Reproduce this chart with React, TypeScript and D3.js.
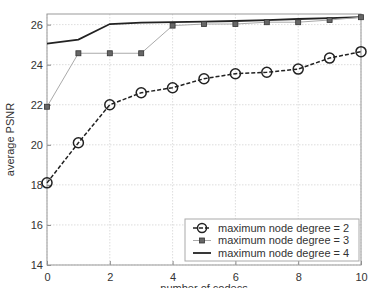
import React, { useEffect, useRef } from 'react';
import * as d3 from 'd3';

const codecs = [0, 1, 2, 3, 4, 5, 6, 7, 8, 9, 10];
const degree2 = [18.1, 20.1, 22.0, 22.6, 22.85, 23.3, 23.55, 23.62, 23.78, 24.33, 24.65];
const degree3 = [21.9, 24.57, 24.57, 24.57, 25.95, 26.03, 26.03, 26.12, 26.12, 26.23, 26.37];
const degree4 = [25.05, 25.25, 26.03, 26.1, 26.12, 26.15, 26.18, 26.22, 26.28, 26.32, 26.37];
const xTicks = [0, 2, 4, 6, 8, 10];
const yTicks = [14, 16, 18, 20, 22, 24, 26];
const legendLabels = ['maximum node degree = 2', 'maximum node degree = 3', 'maximum node degree = 4'];

export default function App() {
  const svgRef = useRef<SVGSVGElement>(null);
  const width = 370;
  const height = 288;
  const margin = { top: 14, right: 9, bottom: 23, left: 47 };

  useEffect(() => {
    const svg = d3.select(svgRef.current);
    svg.selectAll('*').remove();
    const innerW = width - margin.left - margin.right;
    const innerH = height - margin.top - margin.bottom;
    const font = 'Liberation Sans, Arial, sans-serif';

    const x = d3.scaleLinear().domain([0, 10]).range([0, innerW]);
    const y = d3.scaleLinear().domain([14, 26.53]).range([innerH, 0]);

    const g = svg.append('g').attr('transform', `translate(${margin.left},${margin.top})`);

    // grid
    g.selectAll('.gx')
      .data(xTicks)
      .enter()
      .append('line')
      .attr('x1', (d) => x(d))
      .attr('x2', (d) => x(d))
      .attr('y1', 0)
      .attr('y2', innerH)
      .attr('stroke', '#d4d4d4')
      .attr('stroke-width', 0.8)
      .attr('stroke-dasharray', '1.5 1.5');
    g.selectAll('.gy')
      .data(yTicks)
      .enter()
      .append('line')
      .attr('x1', 0)
      .attr('x2', innerW)
      .attr('y1', (d) => y(d))
      .attr('y2', (d) => y(d))
      .attr('stroke', '#d4d4d4')
      .attr('stroke-width', 0.8)
      .attr('stroke-dasharray', '1.5 1.5');

    // axes
    const xAxis = d3.axisBottom(x).tickValues(xTicks).tickSize(-4).tickPadding(8);
    const yAxis = d3.axisLeft(y).tickValues(yTicks).tickSize(-4).tickPadding(4);
    const gx = g.append('g').attr('transform', `translate(0,${innerH})`).call(xAxis);
    const gy = g.append('g').call(yAxis);
    [gx, gy].forEach((a) => {
      a.select('.domain').remove();
      a.selectAll('line').attr('stroke', '#888');
      a.selectAll('text').attr('font-family', font).attr('font-size', 11).attr('fill', '#333');
    });

    // box
    g.append('rect')
      .attr('width', innerW)
      .attr('height', innerH)
      .attr('fill', 'none')
      .attr('stroke', '#999')
      .attr('stroke-width', 1);

    const line = d3
      .line<number>()
      .x((_, i) => x(codecs[i]))
      .y((d) => y(d));

    // degree 4
    g.append('path')
      .datum(degree4)
      .attr('d', line)
      .attr('fill', 'none')
      .attr('stroke', '#222')
      .attr('stroke-width', 1.8);

    // degree 3
    g.append('path')
      .datum(degree3)
      .attr('d', line)
      .attr('fill', 'none')
      .attr('stroke', '#aaa')
      .attr('stroke-width', 1);
    g.selectAll('.m3')
      .data(degree3)
      .enter()
      .append('rect')
      .attr('x', (_, i) => x(codecs[i]) - 2.5)
      .attr('y', (d) => y(d) - 2.5)
      .attr('width', 5)
      .attr('height', 5)
      .attr('fill', '#666')
      .attr('stroke', '#333')
      .attr('stroke-width', 0.8);

    // degree 2
    g.append('path')
      .datum(degree2)
      .attr('d', line)
      .attr('fill', 'none')
      .attr('stroke', '#222')
      .attr('stroke-width', 1.5)
      .attr('stroke-dasharray', '4 2');
    g.selectAll('.m2')
      .data(degree2)
      .enter()
      .append('circle')
      .attr('cx', (_, i) => x(codecs[i]))
      .attr('cy', (d) => y(d))
      .attr('r', 5)
      .attr('fill', 'none')
      .attr('stroke', '#222')
      .attr('stroke-width', 1.5);

    // labels
    svg.append('text')
      .attr('transform', `translate(14,${margin.top + innerH / 2}) rotate(-90)`)
      .attr('text-anchor', 'middle')
      .attr('font-family', font)
      .attr('font-size', 11)
      .attr('fill', '#333')
      .text('average PSNR');
    svg.append('text')
      .attr('x', margin.left + innerW / 2)
      .attr('y', 292)
      .attr('text-anchor', 'middle')
      .attr('font-family', font)
      .attr('font-size', 11)
      .attr('fill', '#333')
      .text('number of codecs');

    // legend
    const lg = svg.append('g').attr('transform', 'translate(185,219)');
    lg.append('rect')
      .attr('width', 174)
      .attr('height', 42)
      .attr('fill', '#fff')
      .attr('stroke', '#aaa')
      .attr('stroke-width', 1);
    const rows = lg
      .selectAll('.row')
      .data(legendLabels)
      .enter()
      .append('g')
      .attr('transform', (_, i) => `translate(0,${9 + i * 12.5})`);
    rows.append('line')
      .attr('x1', 8)
      .attr('x2', 26)
      .attr('stroke', (_, i) => (i === 1 ? '#aaa' : '#222'))
      .attr('stroke-width', (_, i) => (i === 0 ? 1.5 : i === 1 ? 1 : 1.8))
      .attr('stroke-dasharray', (_, i) => (i === 0 ? '4 2' : null));
    rows.filter((_, i) => i === 0)
      .append('circle')
      .attr('cx', 17)
      .attr('r', 4.5)
      .attr('fill', 'none')
      .attr('stroke', '#222')
      .attr('stroke-width', 1.5);
    rows.filter((_, i) => i === 1)
      .append('rect')
      .attr('x', 14.5)
      .attr('y', -2.5)
      .attr('width', 5)
      .attr('height', 5)
      .attr('fill', '#666')
      .attr('stroke', '#333')
      .attr('stroke-width', 0.8);
    rows.append('text')
      .attr('x', 33)
      .attr('dy', '0.35em')
      .attr('font-family', font)
      .attr('font-size', 11)
      .attr('fill', '#333')
      .text((d) => d);
  }, []);

  return (
    <svg
      ref={svgRef}
      width={width}
      height={height}
      style={{ position: 'absolute', left: 0, top: 0, background: '#fff' }}
    />
  );
}
